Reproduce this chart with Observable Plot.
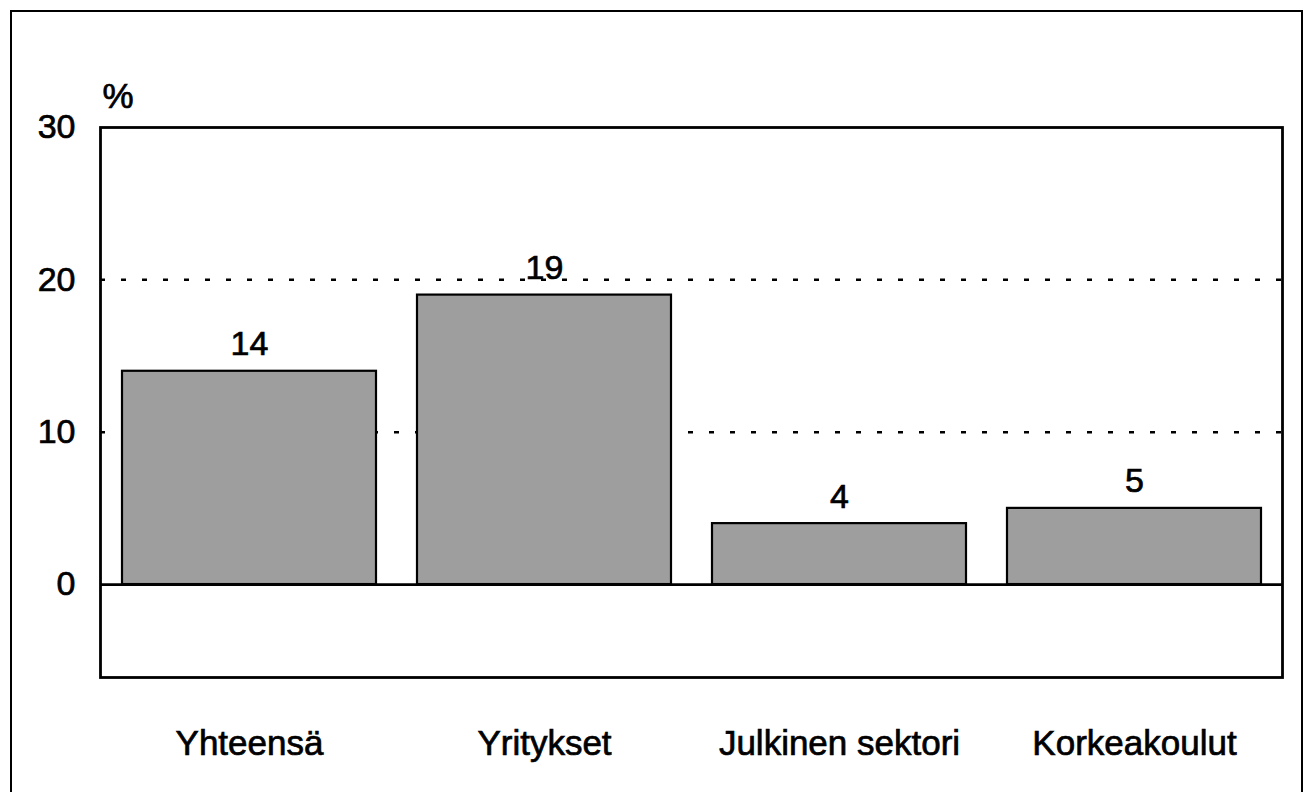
<!DOCTYPE html>
<html>
<head>
<meta charset="utf-8">
<script src="https://cdn.jsdelivr.net/npm/d3@7"></script>
<script src="https://cdn.jsdelivr.net/npm/@observablehq/plot@0.6"></script>
<style>
  html, body { margin: 0; padding: 0; background: white; overflow: hidden; }
  #wrap { position: relative; width: 1306px; height: 792px; }
  #border { position: absolute; left: 10px; top: 10px; width: 1293px; height: 820px; border: 2px solid black; box-sizing: border-box; pointer-events: none; }
  #chart { position: absolute; left: 0; top: 0; }
  #chart svg text { stroke: black; stroke-width: 0.7px; }
</style>
</head>
<body>
<div id="wrap"><div id="chart"></div><div id="border"></div></div>
<script>
const categories = ["Yhteensä", "Yritykset", "Julkinen sektori", "Korkeakoulut"];
const values = [14, 19, 4, 5];
const gridValues = [10, 20];
const yTicks = [0, 10, 20, 30];
const yUnit = "%";

const data = categories.map((c, i) => ({category: c, value: values[i]}));

const chart = Plot.plot({
  width: 1306,
  height: 792,
  marginLeft: 100,
  marginRight: 24,
  marginTop: 127,
  marginBottom: 115,
  style: {fontFamily: "'Liberation Sans', Arial, sans-serif", fontSize: "34px", color: "black", background: "transparent", overflow: "visible"},
  x: {domain: categories, paddingInner: 0.14, paddingOuter: 0.07, label: null},
  y: {domain: [-6.1, 30], label: null},
  marks: [
    Plot.ruleY(gridValues, {stroke: "black", strokeWidth: 2.5, strokeDasharray: "5,16"}),
    Plot.barY(data, {x: "category", y: "value", fill: "#9e9e9e", stroke: "black", strokeWidth: 2.2}),
    Plot.ruleY([0], {stroke: "black", strokeWidth: 2.8}),
    Plot.frame({stroke: "black", strokeWidth: 2.8}),
    Plot.text(data, {x: "category", y: "value", text: d => String(d.value), dy: -16, lineAnchor: "bottom", fontSize: 34, fill: "black"}),
    Plot.text([yUnit], {frameAnchor: "top-left", text: d => d, dx: 2, dy: -20, lineAnchor: "bottom", textAnchor: "start", fontSize: 35, fill: "black"}),
    Plot.axisY({ticks: yTicks, tickSize: 0, tickPadding: 25, fontSize: 34, label: null}),
    Plot.axisX({tickSize: 0, tickPadding: 53, fontSize: 35, label: null})
  ]
});
document.getElementById("chart").appendChild(chart);
</script>
</body>
</html>
